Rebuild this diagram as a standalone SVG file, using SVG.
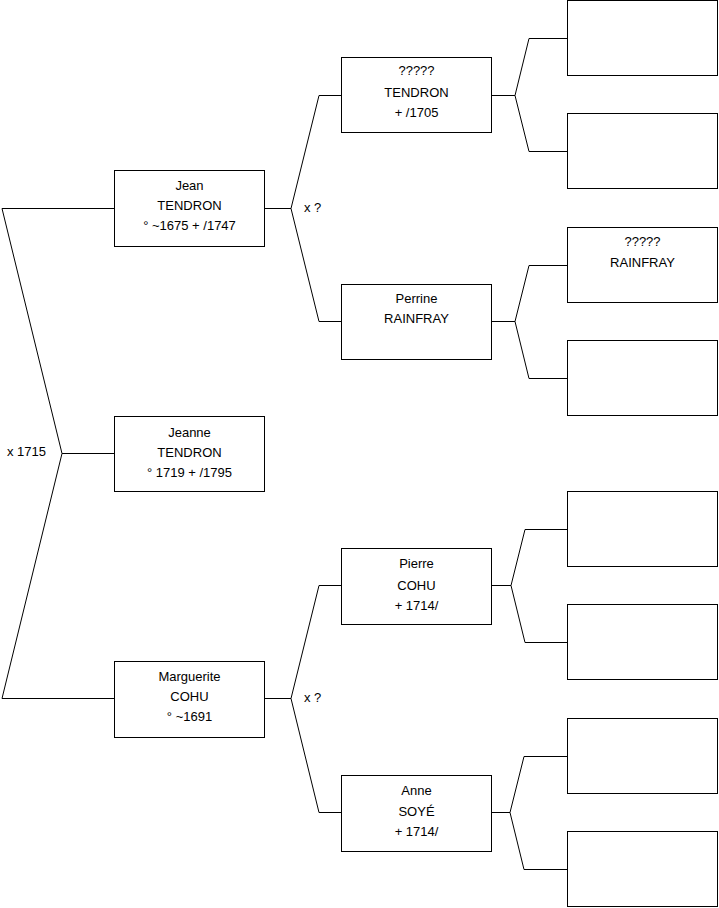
<svg xmlns="http://www.w3.org/2000/svg" width="719" height="908" viewBox="0 0 719 908">
<style>
.box{fill:#fff;stroke:#000;stroke-width:1}
.ln{fill:none;stroke:#000;stroke-width:1}
text{font-family:"Liberation Sans",Arial,sans-serif;font-size:13px;fill:#000}
.c{text-anchor:middle}
</style>
<rect width="719" height="908" fill="#fff"/>
<g id="connectors">
<path class="ln" d="M114,208.5 H2 L62,453.5 H114 M62,453.5 L2,698.5 H114"/>
<path class="ln" d="M265,208.5 H291 L319,95.5 H341 M291,208.5 L319,321.5 H341"/>
<path class="ln" d="M265,698.5 H291 L319,585.5 H341 M291,698.5 L319,812.5 H341"/>
<path class="ln" d="M492,95.5 H515 L529,38.5 H567 M515,95.5 L529,151.5 H567"/>
<path class="ln" d="M492,321.5 H515 L529,265.5 H567 M515,321.5 L529,378.5 H567"/>
<path class="ln" d="M492,585.5 H511 L525,529.5 H567 M511,585.5 L525,642.5 H567"/>
<path class="ln" d="M492,812.5 H510 L524,756.5 H567 M510,812.5 L524,869.5 H567"/>
<text x="7" y="456">x 1715</text>
<text x="304" y="212">x ?</text>
<text x="304" y="702">x ?</text>
</g>
<g id="jean"><rect class="box" x="114.5" y="170.5" width="150" height="76"/>
<text class="c" x="189.5" y="190">Jean</text><text class="c" x="189.5" y="210">TENDRON</text><text class="c" x="189.5" y="230">° ~1675 + /1747</text></g>
<g id="jeanne"><rect class="box" x="114.5" y="416.5" width="150" height="75"/>
<text class="c" x="189.5" y="437">Jeanne</text><text class="c" x="189.5" y="457">TENDRON</text><text class="c" x="189.5" y="477">° 1719 + /1795</text></g>
<g id="marguerite"><rect class="box" x="114.5" y="661.5" width="150" height="76"/>
<text class="c" x="189.5" y="681">Marguerite</text><text class="c" x="189.5" y="701">COHU</text><text class="c" x="189.5" y="721">° ~1691</text></g>
<g id="tendron-father"><rect class="box" x="341.5" y="57.5" width="150" height="75"/>
<text class="c" x="416.5" y="75">?????</text><text class="c" x="416.5" y="97">TENDRON</text><text class="c" x="416.5" y="117">+ /1705</text></g>
<g id="perrine"><rect class="box" x="341.5" y="284.5" width="150" height="75"/>
<text class="c" x="416.5" y="303">Perrine</text><text class="c" x="416.5" y="323">RAINFRAY</text></g>
<g id="pierre"><rect class="box" x="341.5" y="548.5" width="150" height="76"/>
<text class="c" x="416.5" y="568">Pierre</text><text class="c" x="416.5" y="590">COHU</text><text class="c" x="416.5" y="610">+ 1714/</text></g>
<g id="anne"><rect class="box" x="341.5" y="775.5" width="150" height="76"/>
<text class="c" x="416.5" y="795">Anne</text><text class="c" x="416.5" y="816">SOYÉ</text><text class="c" x="416.5" y="836">+ 1714/</text></g>
<g id="g3-1"><rect class="box" x="567.5" y="0.5" width="150" height="75"/></g>
<g id="g3-2"><rect class="box" x="567.5" y="113.5" width="150" height="75"/></g>
<g id="rainfray-father"><rect class="box" x="567.5" y="227.5" width="150" height="75"/>
<text class="c" x="642.5" y="246">?????</text><text class="c" x="642.5" y="267">RAINFRAY</text></g>
<g id="g3-4"><rect class="box" x="567.5" y="340.5" width="150" height="75"/></g>
<g id="g3-5"><rect class="box" x="567.5" y="491.5" width="150" height="75"/></g>
<g id="g3-6"><rect class="box" x="567.5" y="604.5" width="150" height="75"/></g>
<g id="g3-7"><rect class="box" x="567.5" y="718.5" width="150" height="75"/></g>
<g id="g3-8"><rect class="box" x="567.5" y="831.5" width="150" height="75"/></g>
</svg>
